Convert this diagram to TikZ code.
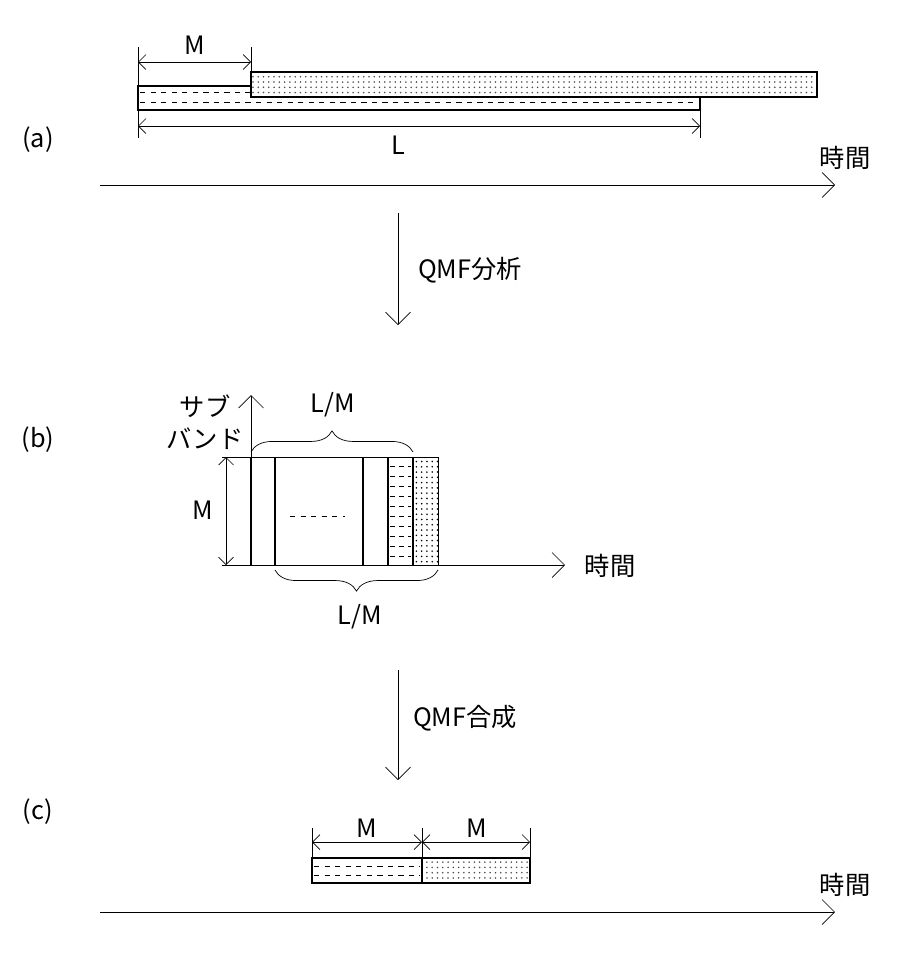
\documentclass[tikz,border=0pt]{standalone}
\usepackage{fontspec}
\setmainfont{Noto Sans CJK JP}
\usetikzlibrary{positioning,patterns,decorations.pathreplacing,arrows.meta}
\tikzset{dim/.style = {{Straight Barb[length=1.5mm]}-{Straight Barb[length=1.5mm]},thin},
         axis/.style = {-{Straight Barb[length=2.5mm]},thin},
         dotbar/.style = {draw,thick,pattern=dots,pattern color=black!70},
         txt/.style = {font=\Large}}

\begin{document}
\begin{tikzpicture}[x=0.02cm,y=-0.02cm]
    \useasboundingbox (0,0) rectangle (898,957);

    % (a)
    \node [txt] (la) at ( 38,140) {(a)};
    \draw [thick] (138,86) rectangle (700,110);
    \foreach \y in {92,102} \draw [dashed,thin] (140,\y) -- (698,\y);
    \fill [white] (251,72) rectangle (817,97);
    \draw [dotbar] (251,72) rectangle (817,97);
    \coordinate (a0) at (138,47);
    \coordinate (a1) at (138,138);
    \draw (a0) -- (a1);
    \draw (251,47) -- (251,72);
    \draw (700,110) -- (700,138);
    \draw [dim] (138,62) -- (251,62);
    \draw [dim] (138,126) -- (700,126);
    \node [txt] (ma) at (195,45)  {M};
    \node [txt] (la2) at (398,145) {L};
    \coordinate (ta0) at (100,185);
    \coordinate (ta1) at (835,185);
    \draw [axis] (ta0) -- (ta1);
    \node [txt] (ta) at (845,158) {時間};

    % QMF analysis
    \coordinate (q0) at (398,213);
    \coordinate (q1) at (398,325);
    \draw [axis] (q0) -- (q1);
    \node [txt] (qa) at (470,270) {QMF分析};

    % (b)
    \node [txt] (lb) at ( 38,440) {(b)};
    \foreach \y in {466,476,...,560} \draw [thin,dash pattern=on 3pt off 2pt] (390,\y) -- (411,\y);
    \draw [thin,pattern=dots] (413,457) rectangle (438,565);
    \draw (222,457) -- (438,457);
    \foreach \x in {251,275,363,388,413} \draw [thick] (\x,457) -- (\x,565);
    \draw [thin] (438,457) -- (438,565);
    \coordinate (bo) at (251,565);
    \draw [axis] (bo) -- (251,395);
    \draw [axis] (222,565) -- (565,565);
    \node [txt] (tb) at (610,566) {時間};
    \draw [dim] (226,457) -- (226,565);
    \node [txt] (mb) at (203,510) {M};
    \draw [dashed,thin] (290,516) -- (345,516);
    \draw [decorate,decoration={brace,amplitude=12pt}] (251,452) -- (413,452);
    \node [txt] (lm1) at (333,405) {L/M};
    \draw [decorate,decoration={brace,amplitude=12pt,mirror}] (275,570) -- (438,570);
    \node [txt] (lm2) at (360,617) {L/M};
    \node [txt,align=center] (sb) at (205,422) {サブ\\バンド};

    % QMF synthesis
    \coordinate (s0) at (398,670);
    \coordinate (s1) at (398,780);
    \draw [axis] (s0) -- (s1);
    \node [txt] (qs) at (465,718) {QMF合成};

    % (c)
    \node [txt] (lc) at ( 38,812) {(c)};
    \draw [thick] (312,858) rectangle (422,883);
    \foreach \y in {866,875} \draw [dashed,thin] (314,\y) -- (420,\y);
    \draw [dotbar] (422,858) rectangle (530,883);
    \foreach \x in {312,422,530} \draw (\x,828) -- (\x,858);
    \draw [dim] (312,842) -- (422,842);
    \draw [dim] (422,842) -- (530,842);
    \node [txt] (mc1) at (367,828) {M};
    \node [txt] (mc2) at (477,828) {M};
    \coordinate (tc0) at (100,912);
    \coordinate (tc1) at (835,912);
    \draw [axis] (tc0) -- (tc1);
    \node [txt] (tc) at (845,885) {時間};
\end{tikzpicture}
\end{document}
